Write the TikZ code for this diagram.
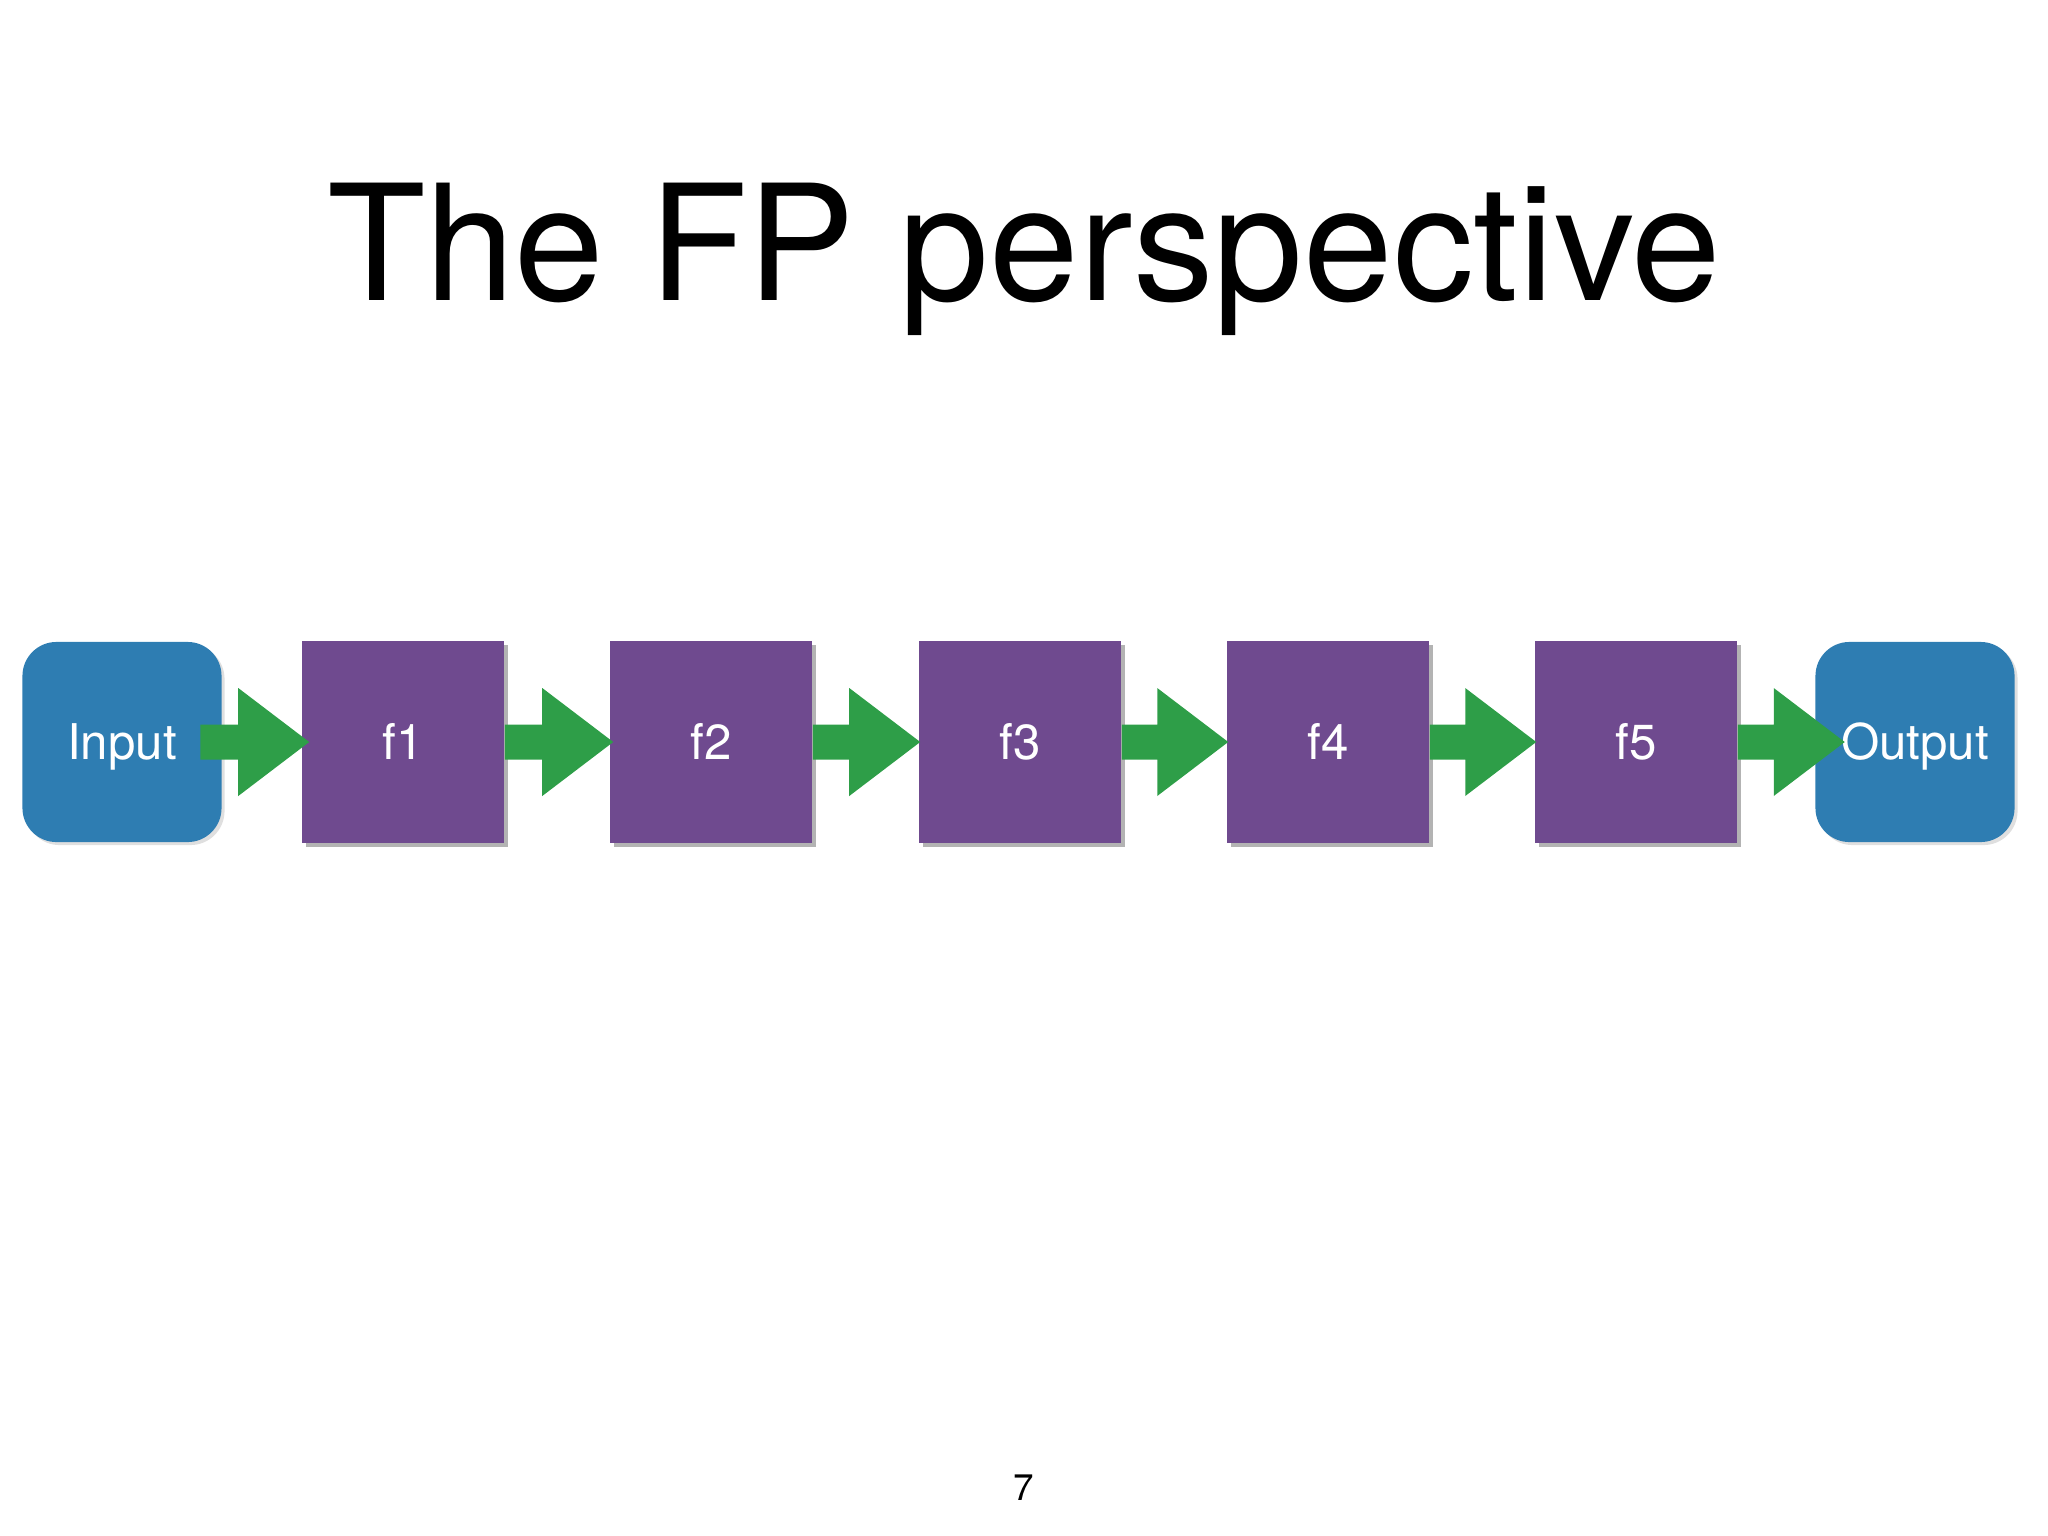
\documentclass[tikz,border=0pt]{standalone}
\usepackage{fontspec}
\setmainfont{TeX Gyre Heros}
\usetikzlibrary{calc,shadows}
\definecolor{ioblue}{RGB}{46,125,178}
\definecolor{fpurple}{RGB}{111,74,143}
\definecolor{agreen}{RGB}{46,158,72}
\tikzset{
  lbl/.style={text=white, font=\fontsize{14}{17}\selectfont, text height=10.1pt, text depth=0pt},
  iobox/.style={lbl, rounded corners=0.34cm, fill=ioblue, minimum width=1.99cm, minimum height=2cm,
    inner sep=0pt,
    drop shadow={shadow xshift=0.03cm, shadow yshift=-0.03cm, opacity=0.25}},
  fbox/.style={lbl, fill=fpurple, minimum width=2.02cm, minimum height=2.01cm,
    inner sep=0pt,
    drop shadow={shadow xshift=0.04cm, shadow yshift=-0.04cm, opacity=0.6}},
  conn/.style={fill=agreen}
}
\newcommand\fpconn[4]{%
  \path ($(#1.east)+(#3,0)$) coordinate (S) ($(#2.west)+(#4,0)$) coordinate (T);
  \fill[conn] ($(S)+(0,-17.5)$) -- ($(T)+(-71,-17.5)$) -- ($(T)+(-71,-54)$) -- (T)
    -- ($(T)+(-71,54)$) -- ($(T)+(-71,17.5)$) -- ($(S)+(0,17.5)$) -- cycle;
}
\begin{document}
\begin{tikzpicture}[x=0.01cm,y=-0.01cm]
\useasboundingbox (0,0) rectangle (2048,1536);
\node[anchor=base, font=\fontsize{45.8}{50}\selectfont] (title) at (1024,300) {The FP perspective};
\node[iobox] (in) at (122,742) {Input};
\node[fbox] (f1) at (403,742) {f1};
\node[fbox] (f2) at (711,742) {f2};
\node[fbox] (f3) at (1020,742) {f3};
\node[fbox] (f4) at (1328,742) {f4};
\node[fbox] (f5) at (1636,742) {f5};
\node[iobox] (out) at (1915,742) {Output};
\fpconn{in}{f1}{-22}{8}
\fpconn{f1}{f2}{0}{4}
\fpconn{f2}{f3}{0}{2}
\fpconn{f3}{f4}{0}{2}
\fpconn{f4}{f5}{0}{2}
\fpconn{f5}{out}{0}{30}
\node[anchor=base, font=\fontsize{10.5}{12}\selectfont] (page) at (1024,1500) {7};
\end{tikzpicture}
\end{document}
